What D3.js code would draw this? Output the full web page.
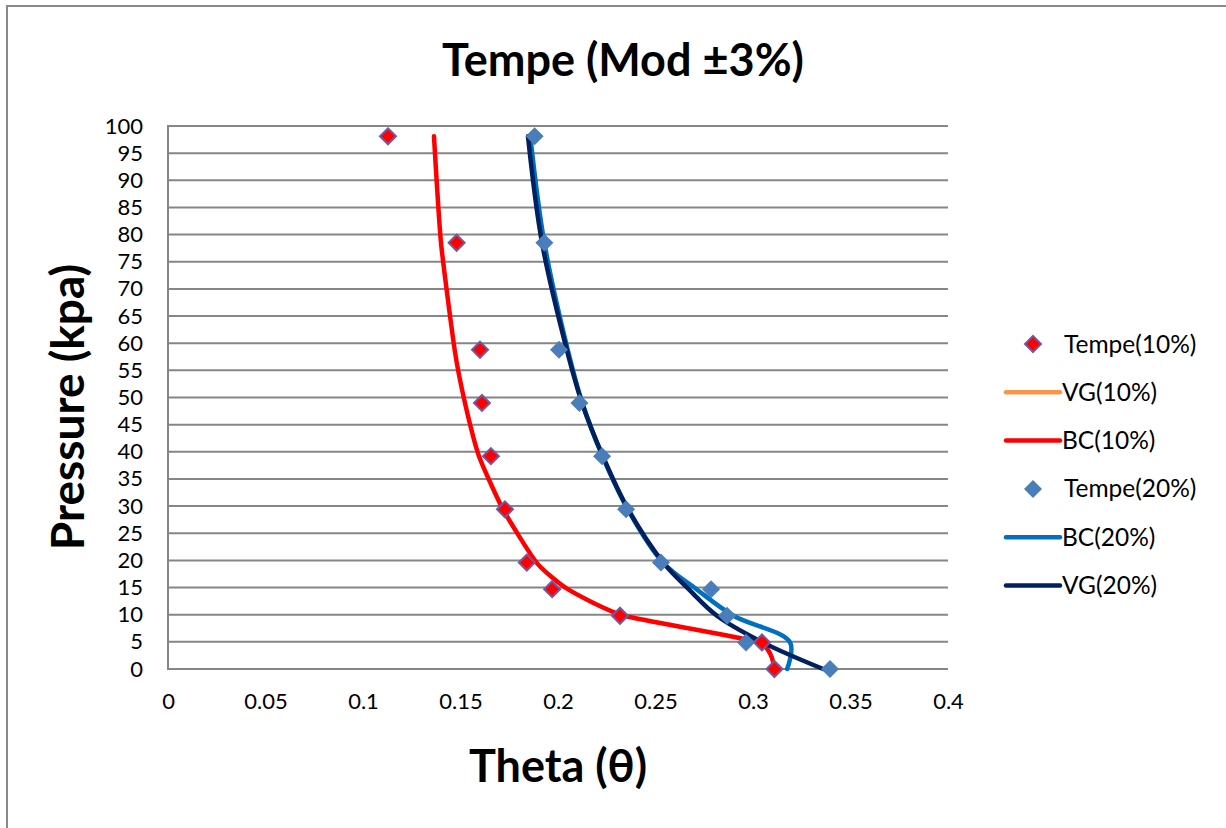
<!DOCTYPE html>
<html>
<head>
<meta charset="utf-8">
<script src="https://cdn.jsdelivr.net/npm/d3@7"></script>
<style>
  html, body { margin: 0; padding: 0; background: #fff; }
  svg { display: block; font-family: Lato, "Open Sans", sans-serif; }
</style>
</head>
<body>
<svg id="chart" width="1226" height="828"></svg>
<script>
// Suction levels (kPa) at which soil-water content was evaluated
const pressures = [98.1, 78.5, 58.8, 49.0, 39.2, 29.4, 19.6, 14.7, 9.8, 4.9, 0];

// Measured volumetric water content, Tempe cell
const tempe10 = [0.1128, 0.148, 0.160, 0.161, 0.1656, 0.1728, 0.184, 0.197, 0.2318, 0.3046, 0.311];
const tempe20 = [0.188, 0.193, 0.2005, 0.211, 0.2226, 0.2349, 0.2528, 0.2785, 0.2867, 0.2964, 0.3395];

// Fitted retention models
const vg10 = [];
const bc10 = [0.1364, 0.140, 0.147, 0.1523, 0.1595, 0.1718, 0.189, 0.205, 0.234, 0.303, 0.311];
const bc20 = [0.1858, 0.193, 0.205, 0.2125, 0.2228, 0.2358, 0.2538, 0.271, 0.290, 0.319, 0.3175];
const vg20 = [0.1846, 0.1918, 0.2045, 0.2123, 0.223, 0.236, 0.254, 0.267, 0.2815, 0.305, 0.336];

const xTicks = [0, 0.05, 0.1, 0.15, 0.2, 0.25, 0.3, 0.35, 0.4];
const yTicks = d3.range(0, 101, 5);

const legendNames = ["Tempe(10%)", "VG(10%)", "BC(10%)", "Tempe(20%)", "BC(20%)", "VG(20%)"];

const svg = d3.select("#chart");

// Outer chart frame
svg.append("rect").attr("x", 7).attr("y", 6).attr("width", 1260).attr("height", 860)
  .attr("fill", "none").attr("stroke", "#898989").attr("stroke-width", 2);

const plot = { left: 168, right: 948, top: 126, bottom: 669 };
const x = d3.scaleLinear().domain([0, 0.4]).range([plot.left, plot.right]);
const y = d3.scaleLinear().domain([0, 100]).range([plot.bottom, plot.top]);

// Horizontal gridlines
svg.append("g").selectAll("line").data(yTicks).join("line")
  .attr("x1", plot.left).attr("x2", plot.right)
  .attr("y1", d => y(d)).attr("y2", d => y(d))
  .attr("stroke", "#868686").attr("stroke-width", 2);

// Left axis line
svg.append("line").attr("x1", plot.left).attr("x2", plot.left)
  .attr("y1", plot.top - 1).attr("y2", plot.bottom + 1)
  .attr("stroke", "#868686").attr("stroke-width", 2);

// Y tick labels
const yAxis = d3.axisLeft(y).tickValues(yTicks).tickSize(0).tickPadding(25).tickFormat(d3.format("d"));
const gy = svg.append("g").attr("transform", `translate(${plot.left},0)`).call(yAxis);
gy.select(".domain").remove();
gy.selectAll("text").attr("font-size", 22).attr("fill", "#000").attr("font-family", "Lato, sans-serif");

// X tick labels
const xAxis = d3.axisBottom(x).tickValues(xTicks).tickSize(0).tickPadding(24).tickFormat(d => d3.format("")(d));
const gx = svg.append("g").attr("transform", `translate(0,${plot.bottom})`).call(xAxis);
gx.select(".domain").remove();
gx.selectAll("text").attr("font-size", 22).attr("fill", "#000").attr("font-family", "Lato, sans-serif");

// Titles
svg.append("text").attr("x", 623).attr("y", 76).attr("text-anchor", "middle")
  .attr("font-size", 45).attr("font-weight", "bold").text("Tempe (Mod ±3%)");
svg.append("text").attr("x", 558).attr("y", 782).attr("text-anchor", "middle")
  .attr("font-size", 45).attr("font-weight", "bold").text("Theta (θ)");
svg.append("text").attr("transform", "translate(84,407) rotate(-90)").attr("text-anchor", "middle")
  .attr("font-size", 46).attr("font-weight", "bold").text("Pressure (kpa)");

// Smoothed model curves
const pair = vals => vals.map((v, i) => [v, pressures[i]]);
const smooth = d3.line().x(d => x(d[0])).y(d => y(d[1])).curve(d3.curveCatmullRom.alpha(0.5));
const tight = d3.line().x(d => x(d[0])).y(d => y(d[1])).curve(d3.curveCardinal.tension(0.45));

const curves = [
  { vals: vg10, color: "#F79646", gen: smooth },
  { vals: bc10, color: "#FF0000", gen: tight },
  { vals: bc20, color: "#0070C0", gen: smooth },
  { vals: vg20, color: "#002060", gen: smooth }
];
curves.forEach(c => {
  if (!c.vals.length) return;
  svg.append("path").datum(pair(c.vals)).attr("d", c.gen)
    .attr("fill", "none").attr("stroke", c.color).attr("stroke-width", 4.5)
    .attr("stroke-linecap", "round").attr("stroke-linejoin", "round");
});

// Measured points (diamonds)
const diamond = s => `M0,${-s}L${s},0L0,${s}L${-s},0Z`;
svg.append("g").selectAll("path").data(pair(tempe10)).join("path")
  .attr("transform", d => `translate(${x(d[0])},${y(d[1])})`)
  .attr("d", diamond(8)).attr("fill", "#FF0000").attr("stroke", "#7359A0").attr("stroke-width", 2);
svg.append("g").selectAll("path").data(pair(tempe20)).join("path")
  .attr("transform", d => `translate(${x(d[0])},${y(d[1])})`)
  .attr("d", diamond(9)).attr("fill", "#4A7EBB");

// Legend
const legend = [
  { name: legendNames[0], type: "point", fill: "#FF0000", stroke: "#7359A0", s: 8 },
  { name: legendNames[1], type: "line", color: "#F79646" },
  { name: legendNames[2], type: "line", color: "#FF0000" },
  { name: legendNames[3], type: "point", fill: "#4A7EBB", stroke: "none", s: 9 },
  { name: legendNames[4], type: "line", color: "#0070C0" },
  { name: legendNames[5], type: "line", color: "#002060" }
];
const lg = svg.append("g").selectAll("g").data(legend).join("g")
  .attr("transform", (d, i) => `translate(0,${344 + i * 48.3})`);
lg.filter(d => d.type === "line").append("line")
  .attr("x1", 1006).attr("x2", 1060).attr("y1", 0).attr("y2", 0)
  .attr("stroke", d => d.color).attr("stroke-width", 4.5).attr("stroke-linecap", "round");
lg.filter(d => d.type === "point").append("path")
  .attr("transform", "translate(1033,0)")
  .attr("d", d => diamond(d.s)).attr("fill", d => d.fill)
  .attr("stroke", d => d.stroke).attr("stroke-width", 2);
lg.append("text").attr("x", d => d.type === "point" ? 1064 : 1062).attr("y", 8.5)
  .attr("font-size", 24.5).attr("fill", "#000").text(d => d.name);
</script>
</body>
</html>
